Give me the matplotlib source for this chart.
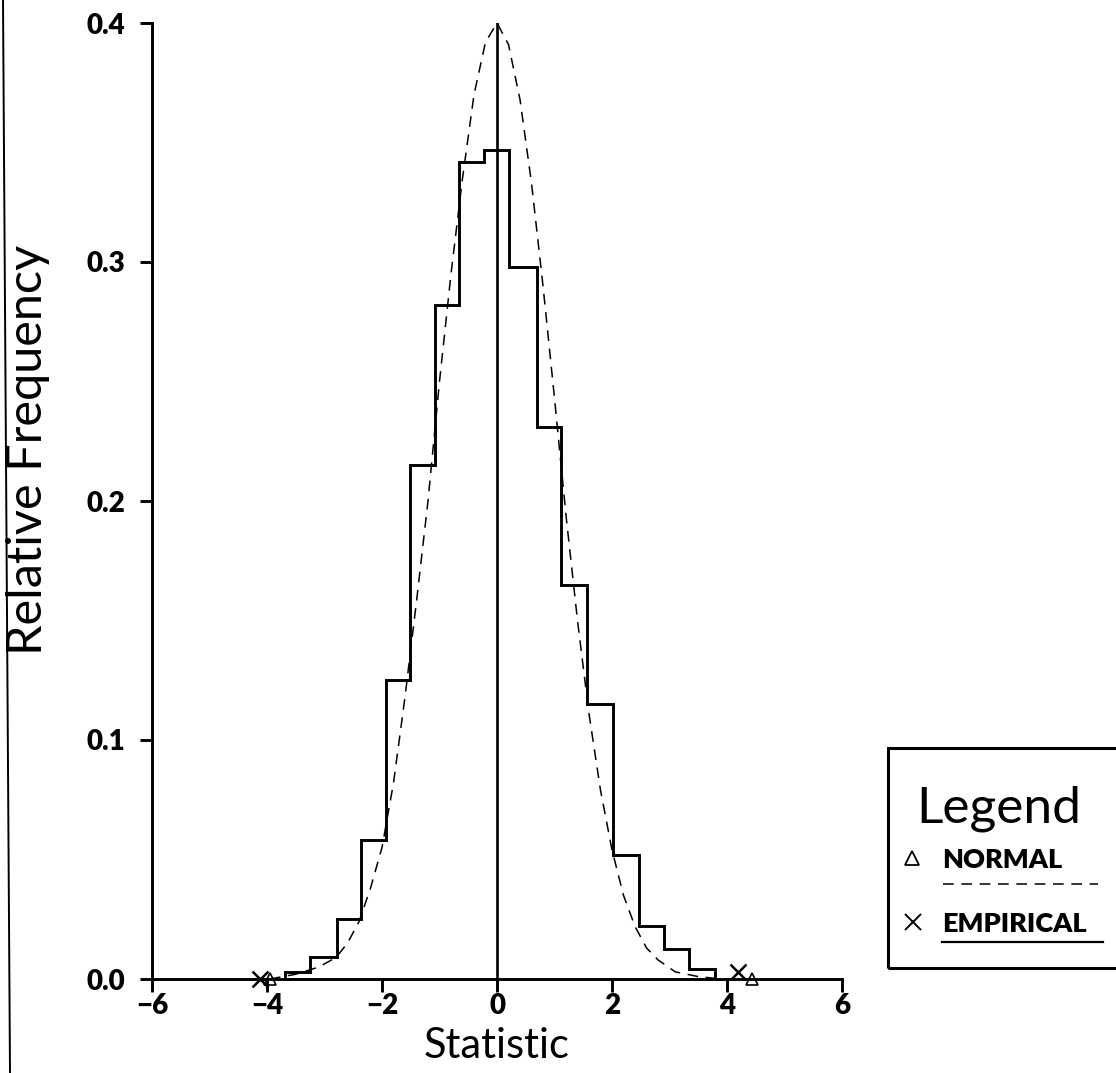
import numpy as np
import matplotlib
matplotlib.use("Agg")
import matplotlib.pyplot as plt
from matplotlib.lines import Line2D
from matplotlib.patches import Rectangle

# histogram of the empirical statistic (bin edges and relative frequencies)
bin_edges = [-3.69, -3.25, -2.79, -2.37, -1.93, -1.51, -1.07, -0.66, -0.22,
             0.21, 0.70, 1.11, 1.57, 2.01, 2.47, 2.91, 3.34, 3.79]
rel_freq = [0.003, 0.009, 0.025, 0.058, 0.125, 0.215, 0.282, 0.342, 0.347,
            0.298, 0.231, 0.165, 0.115, 0.052, 0.022, 0.0125, 0.004]

# normal reference curve
normal_x = [-3.95, -3.5, -3.1, -2.8, -2.6, -2.4, -2.2, -2.0, -1.8, -1.6, -1.4,
            -1.2, -1.0, -0.8, -0.6, -0.4, -0.2, 0.0, 0.2, 0.4, 0.6, 0.8, 1.0,
            1.2, 1.4, 1.6, 1.8, 2.0, 2.2, 2.4, 2.6, 2.8, 3.1, 3.5, 3.9, 4.43]
normal_y = [0.000, 0.002, 0.005, 0.009, 0.015, 0.024, 0.038, 0.055, 0.082,
            0.118, 0.158, 0.200, 0.250, 0.295, 0.335, 0.370, 0.392, 0.400,
            0.391, 0.368, 0.333, 0.290, 0.243, 0.194, 0.150, 0.111, 0.079,
            0.054, 0.035, 0.022, 0.013, 0.008, 0.003, 0.001, 0.000, 0.000]

# end markers of both curves
normal_ends_x = [-3.95, 4.43]
normal_ends_y = [0.0, 0.0]
empirical_ends_x = [-4.12, 4.19]
empirical_ends_y = [0.0, 0.003]

center_x = [0.0, 0.0]
center_y = [0.0, 0.402]

xticks = [-6, -4, -2, 0, 2, 4, 6]
yticks = [0.0, 0.1, 0.2, 0.3, 0.4]

W, H = 1116, 1073
fig = plt.figure(figsize=(W / 100, H / 100), dpi=100)
ax = fig.add_axes([152 / W, 1 - 979 / H, 690 / W, 956 / H])

ax.stairs(rel_freq, bin_edges, baseline=0, color="black", lw=2.1)
ax.plot(normal_x, normal_y, color="black", lw=1.1, dashes=(7, 5))
ax.plot(center_x, center_y, color="black", lw=1.9)

ax.plot(empirical_ends_x, empirical_ends_y, ls="none", marker="x",
        ms=11, mew=1.8, color="black", clip_on=False)
ax.plot(normal_ends_x, normal_ends_y, ls="none", marker="^", ms=9,
        mfc="none", mec="black", mew=1.2, clip_on=False)

ax.set_xlim(-6, 6)
ax.set_ylim(0, 0.4)
ax.spines["top"].set_visible(False)
ax.spines["right"].set_visible(False)
ax.spines["left"].set_linewidth(2.1)
ax.spines["bottom"].set_linewidth(2.1)

ax.set_xticks(xticks)
ax.set_yticks(yticks)
ax.set_xticklabels([str(t).replace("-", "\u2212") for t in xticks])
ax.set_yticklabels([f"{t:.1f}" for t in yticks])
ax.tick_params(direction="out", length=9, width=2.1, labelsize=20)
ax.tick_params(axis="x", pad=1)
ax.tick_params(axis="y", pad=10)
for lab in ax.get_xticklabels() + ax.get_yticklabels():
    lab.set_fontweight("heavy")
    lab.set_family("Lato")

ax.set_xlabel("Statistic", fontsize=30, family="Lato", labelpad=6)
ax.set_ylabel("Relative Frequency", fontsize=35, family="Lato")
ax.yaxis.set_label_coords(-0.148, 0.554)

# legend box, cut off at the right edge
def fx(px):
    return px / W

def fy(py):
    return 1 - py / H

fig.add_artist(Rectangle((fx(888), fy(968)), fx(1140) - fx(888), fy(748) - fy(968),
                         transform=fig.transFigure, fill=False, lw=2.2, ec="black"))
fig.text(fx(916), fy(822), "Legend", fontsize=37, family="Lato", va="baseline")
fig.text(fx(942), fy(868), "NORMAL", fontsize=19.5, family="Lato",
         fontweight="heavy", va="baseline")
fig.text(fx(942), fy(932), "EMPIRICAL", fontsize=19.5, family="Lato",
         fontweight="heavy", va="baseline")
fig.add_artist(Line2D([fx(912)], [fy(858)], marker="^", ms=10, mfc="none",
                      mec="black", mew=1.3, transform=fig.transFigure))
fig.add_artist(Line2D([fx(913)], [fy(922)], marker="x", ms=11, mew=1.4,
                      color="black", transform=fig.transFigure))
fig.add_artist(Line2D([fx(943), fx(1098)], [fy(884), fy(884)], color="black",
                      lw=1.1, dashes=(7, 5), transform=fig.transFigure))
fig.add_artist(Line2D([fx(942), fx(1103)], [fy(942), fy(942)], color="black",
                      lw=1.6, transform=fig.transFigure))

# page edge line on the left
fig.add_artist(Line2D([fx(3), fx(10)], [1, 0], color="black", lw=1.4,
                      transform=fig.transFigure))

fig.savefig("out.png", dpi=100)
